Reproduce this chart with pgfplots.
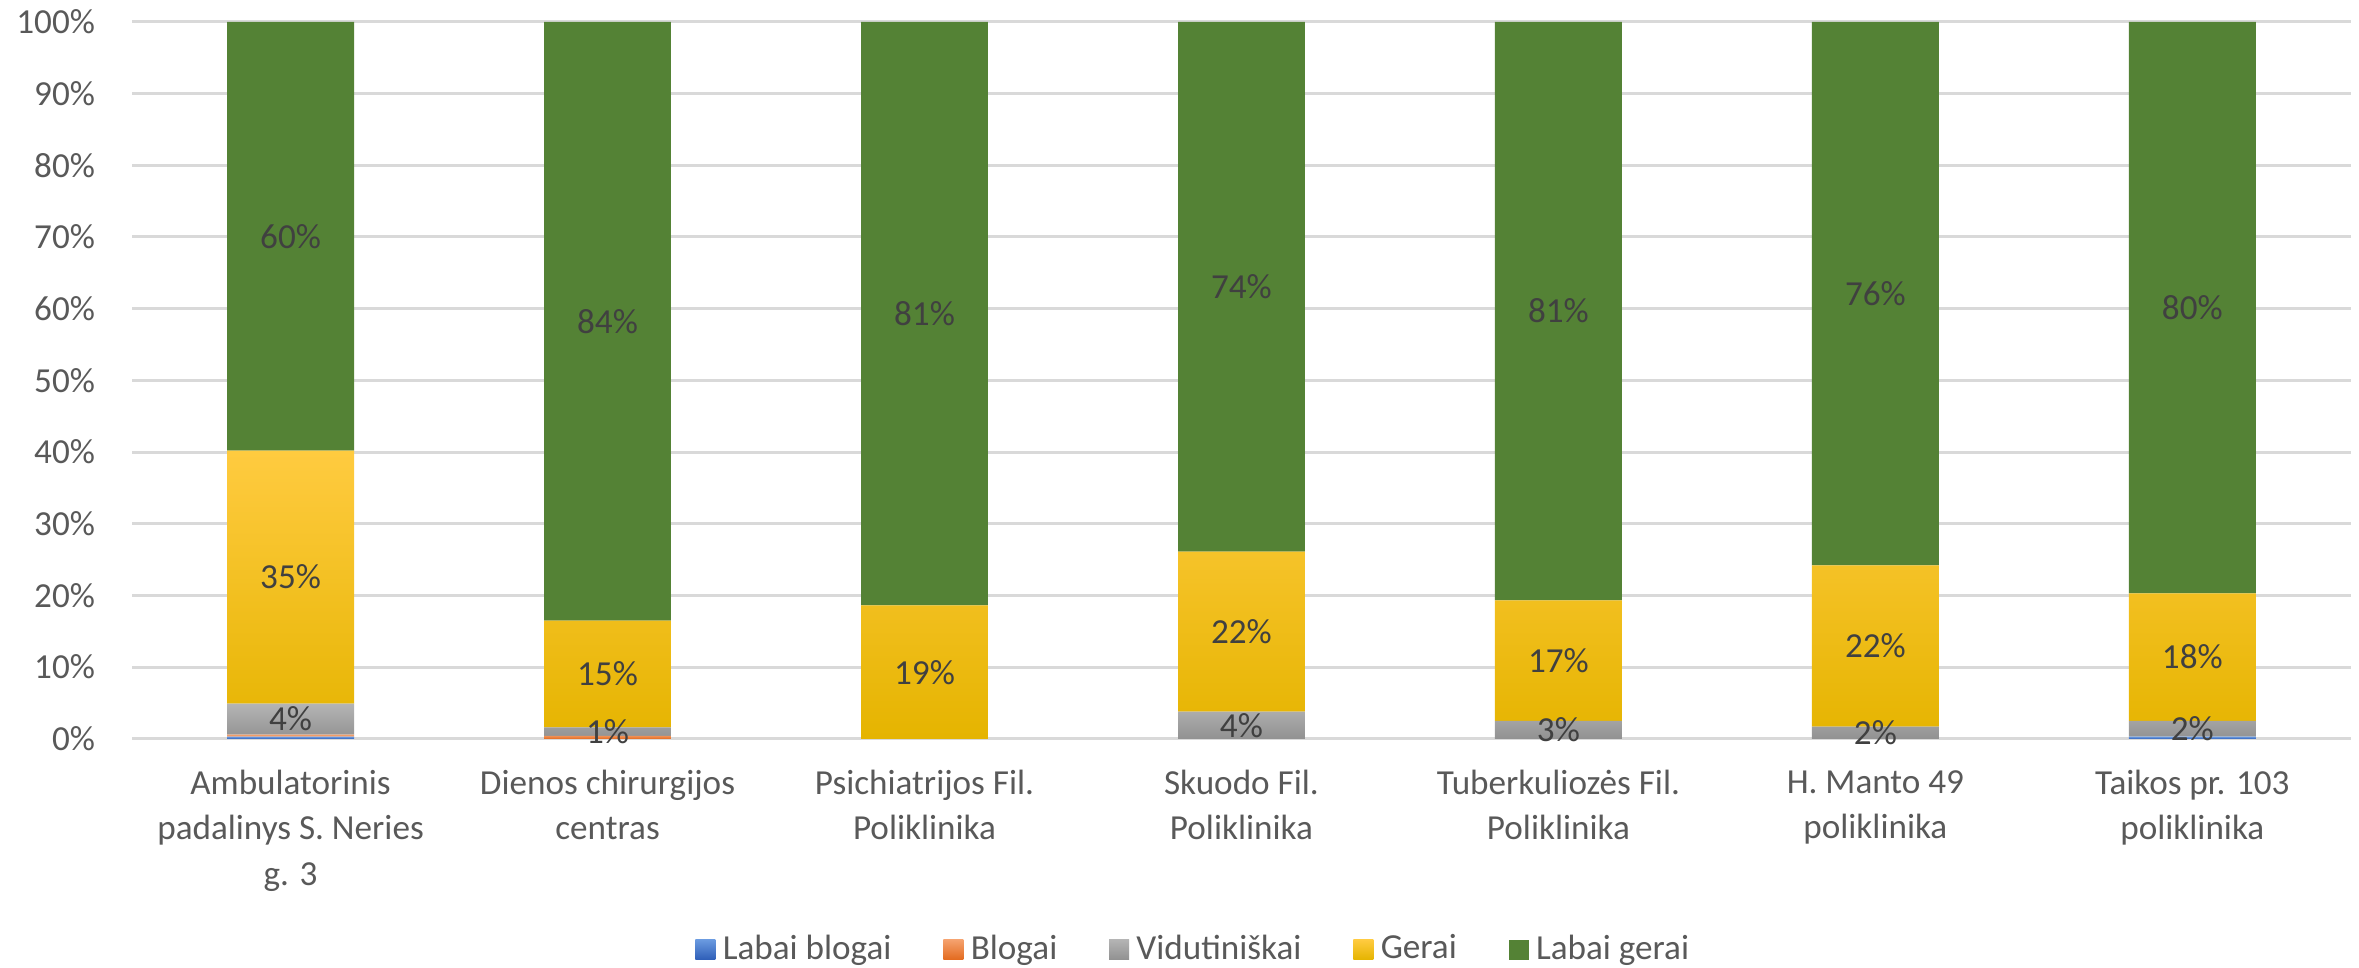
\documentclass[border=0pt]{standalone}
\usepackage{pgfplots}
\pgfplotsset{compat=1.18}
\usepackage{fontspec}
\setmainfont{Carlito}

\definecolor{tickgray}{HTML}{595959}
\definecolor{labgray}{HTML}{404040}
\definecolor{gridgray}{HTML}{D9D9D9}
\definecolor{cgreen}{HTML}{548235}
\definecolor{bluetop}{HTML}{6A9AE0}
\definecolor{bluebot}{HTML}{2E5EB8}
\definecolor{orgtop}{HTML}{F5A26E}
\definecolor{orgbot}{HTML}{E36A1E}
\definecolor{graytop}{HTML}{B4B4B4}
\definecolor{graybot}{HTML}{919191}
\definecolor{yeltop}{HTML}{FFCB40}
\definecolor{yelmid}{HTML}{FFC500}
\definecolor{yelbot}{HTML}{E5B400}

\begin{document}
\begin{tikzpicture}
\useasboundingbox (-35.7pt,-61.9pt) rectangle (601.9pt,199.7pt);
\begin{axis}[
    scale only axis,
    width=599.7pt,
    height=193.8pt,
    ybar stacked,
    bar width=34.3pt,
    xmin=-0.5, xmax=6.5,
    ymin=0, ymax=100,
    xtick={0,...,6},
    xticklabels={
        {Ambulatorinis\\padalinys S. Neries\\g. 3},
        {Dienos chirurgijos\\centras},
        {Psichiatrijos Fil.\\Poliklinika},
        {Skuodo Fil.\\Poliklinika},
        {Tuberkuliozės Fil.\\Poliklinika},
        {H. Manto 49\\poliklinika},
        {Taikos pr. 103\\poliklinika}},
    xticklabel style={align=center, font=\fontsize{9.5}{12.2}\selectfont, text=tickgray, yshift=-5pt},
    ytick={0,10,...,100},
    yticklabel={\pgfmathprintnumber{\tick}\%},
    yticklabel style={font=\fontsize{9.5}{11}\selectfont, text=tickgray, xshift=-6.5pt},
    /pgf/number format/assume math mode=true,
    major tick length=0pt,
    axis line style={draw=none},
    ymajorgrids,
    grid style={gridgray, line width=0.8pt},
    nodes near coords,
    point meta=explicit symbolic,
    every node near coord/.append style={anchor=center, font=\fontsize{9.5}{11}\selectfont, text=labgray},
    legend columns=5,
    legend style={at={(0.4795,-0.294)}, anchor=center, draw=none, fill=none,
        font=\fontsize{9.5}{11}\selectfont, text=tickgray,
        /tikz/every even column/.append style={column sep=12pt}},
    legend image code/.code={\path[#1] (0pt,-2.7pt) rectangle (5.4pt,2.7pt);},
]
% Labai blogai
\addplot[draw=none, top color=bluetop, bottom color=bluebot] coordinates {
    (0,0.3) [] (1,0) [] (2,0) [] (3,0) [] (4,0) [] (5,0) [] (6,0.3) []
};
% Blogai
\addplot[draw=none, top color=orgtop, bottom color=orgbot] coordinates {
    (0,0.3) [] (1,0.4) [] (2,0) [] (3,0) [] (4,0) [] (5,0) [] (6,0) []
};
% Vidutiniskai
\addplot[draw=none, top color=graytop, bottom color=graybot] coordinates {
    (0,4.3) [4\%] (1,1.2) [1\%] (2,0) [] (3,3.8) [4\%] (4,2.5) [3\%] (5,1.7) [2\%] (6,2.2) [2\%]
};
% Gerai
\addplot[draw=none, top color=yeltop, middle color=yelmid, bottom color=yelbot] coordinates {
    (0,35.3) [35\%] (1,14.9) [15\%] (2,18.6) [19\%] (3,22.3) [22\%] (4,16.8) [17\%] (5,22.5) [22\%] (6,17.8) [18\%]
};
% Labai gerai
\addplot[draw=none, fill=cgreen] coordinates {
    (0,59.8) [60\%] (1,83.5) [84\%] (2,81.4) [81\%] (3,73.9) [74\%] (4,80.7) [81\%] (5,75.8) [76\%] (6,79.7) [80\%]
};
\legend{Labai blogai, Blogai, Vidutiniškai, Gerai, Labai gerai}
\end{axis}
\end{tikzpicture}
\end{document}
